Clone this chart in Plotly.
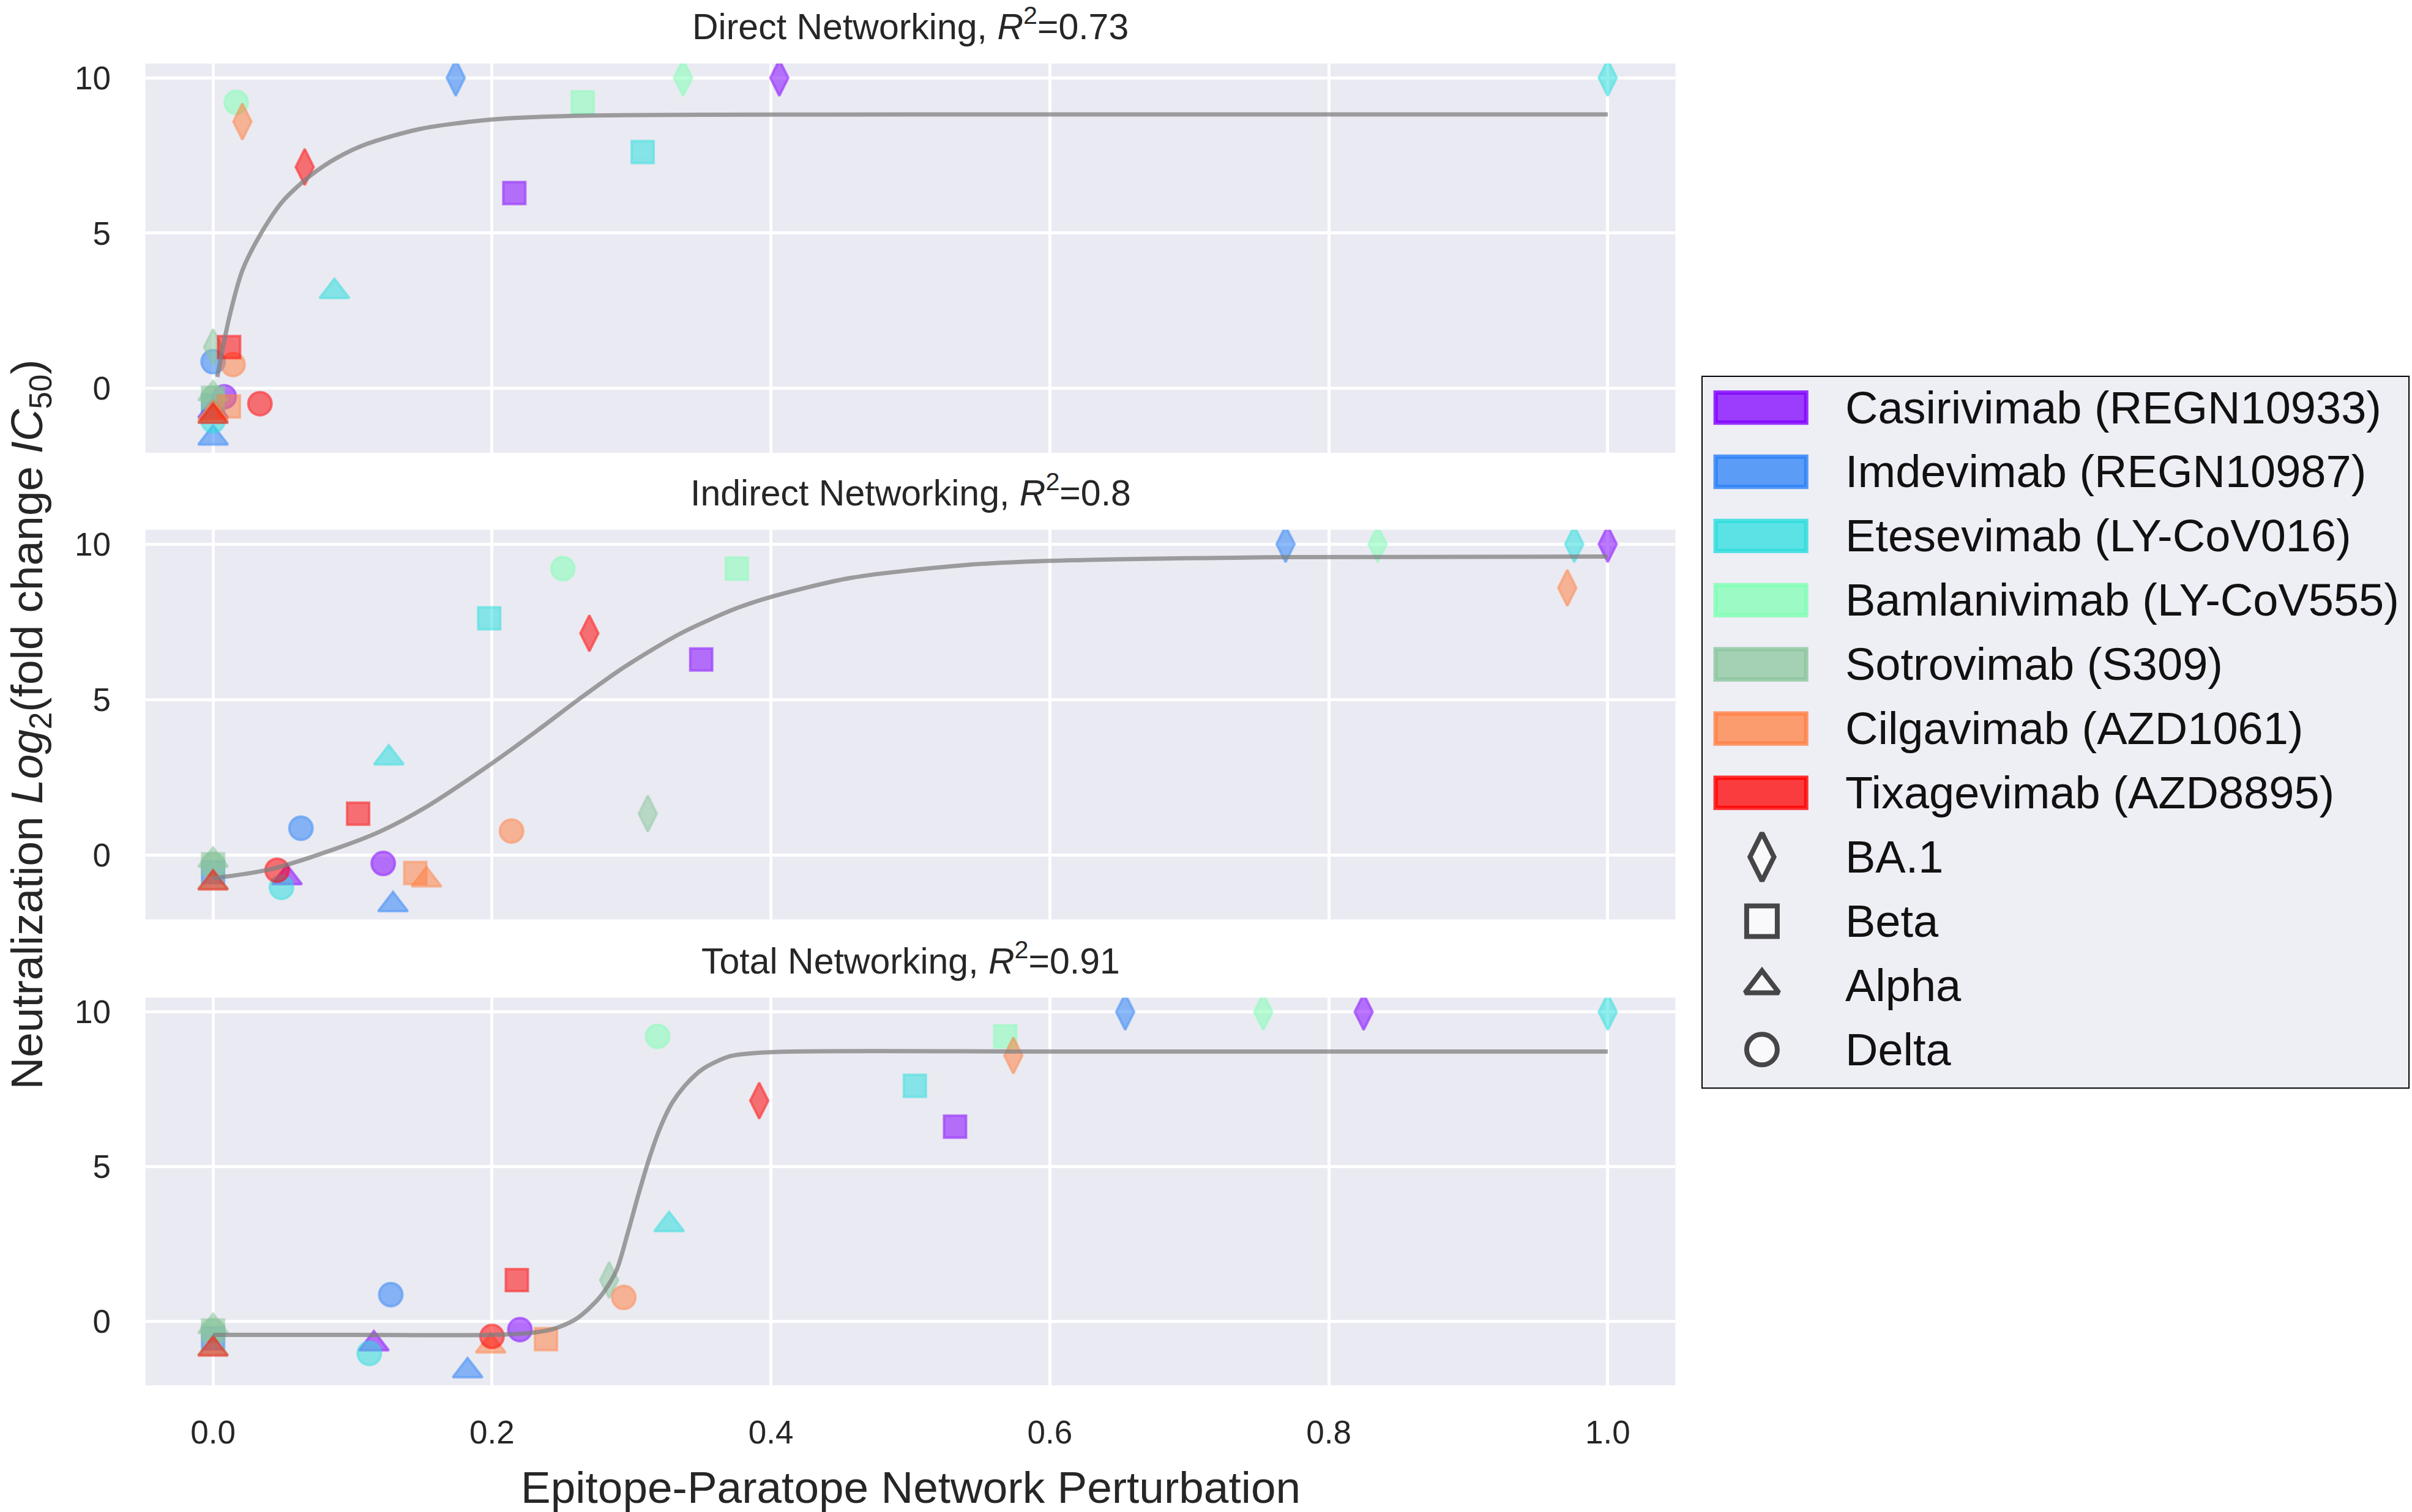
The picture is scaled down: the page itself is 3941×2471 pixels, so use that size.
import plotly.graph_objects as go

# antibodies (colour series) and variants (marker series)
antibodies = ["Casirivimab (REGN10933)", "Imdevimab (REGN10987)", "Etesevimab (LY-CoV016)",
              "Bamlanivimab (LY-CoV555)", "Sotrovimab (S309)", "Cilgavimab (AZD1061)",
              "Tixagevimab (AZD8895)"]
colors = ["#8000FF", "#2A80F6", "#2ADDDD", "#80FFB4", "#8BC69E", "#FF8042", "#FF0000"]
variants = ["BA.1", "Beta", "Alpha", "Delta"]
symbols = ["diamond-tall", "square", "triangle-up", "circle"]

# neutralization Log2(fold change IC50), rows = antibodies, cols = variants
log2_fc = [
    [10, 6.29, -0.73, -0.27],
    [10, -0.55, -1.60, 0.86],
    [10, 7.61, 3.12, -1.04],
    [10, 9.21, -0.88, 9.21],
    [1.33, -0.30, -0.17, -0.30],
    [8.59, -0.58, -0.80, 0.77],
    [7.13, 1.33, -0.90, -0.49],
]

# epitope-paratope network perturbation per panel
direct_x = [
    [0.406, 0.216, 0.0, 0.008],
    [0.174, 0.0, 0.0, 0.0],
    [1.0, 0.308, 0.087, 0.0],
    [0.337, 0.265, 0.0, 0.0166],
    [0.0, 0.0, 0.0, 0.0],
    [0.021, 0.0113, 0.0, 0.0143],
    [0.0657, 0.0115, 0.0, 0.0336],
]
indirect_x = [
    [1.0, 0.350, 0.053, 0.122],
    [0.769, 0.0, 0.129, 0.063],
    [0.976, 0.198, 0.126, 0.049],
    [0.835, 0.3755, 0.0, 0.2508],
    [0.3117, 0.0, 0.0, 0.0],
    [0.971, 0.145, 0.153, 0.214],
    [0.2698, 0.104, 0.0, 0.0459],
]
total_x = [
    [0.825, 0.532, 0.1153, 0.220],
    [0.654, 0.0, 0.1825, 0.1274],
    [1.0, 0.5032, 0.327, 0.112],
    [0.753, 0.568, 0.0, 0.3187],
    [0.284, 0.0, 0.0, 0.0],
    [0.5738, 0.2387, 0.199, 0.2945],
    [0.3916, 0.2178, 0.0, 0.200],
]

# fitted curves
direct_fit_x = [0.003, 0.0113, 0.021, 0.035, 0.05, 0.07, 0.0895, 0.109, 0.148, 0.2, 0.259, 0.35, 0.5, 0.75, 1.0]
direct_fit_y = [0.37, 2.23, 3.8, 5.04, 6.03, 6.86, 7.44, 7.85, 8.35, 8.66, 8.78, 8.81, 8.82, 8.82, 8.82]
indirect_fit_x = [0.0, 0.04, 0.0865, 0.12, 0.153, 0.2, 0.233, 0.262, 0.294, 0.335, 0.375, 0.4, 0.457, 0.538, 0.6, 0.77, 1.0]
indirect_fit_y = [-0.75, -0.47, 0.18, 0.76, 1.55, 2.95, 4.02, 5.0, 6.02, 7.12, 7.93, 8.3, 8.91, 9.32, 9.46, 9.58, 9.6]
total_fit_x = [0.0, 0.1, 0.2, 0.227, 0.244, 0.2605, 0.277, 0.289, 0.297, 0.305, 0.313, 0.321, 0.329,
               0.339, 0.351, 0.371, 0.4, 0.6, 1.0]
total_fit_y = [-0.44, -0.44, -0.44, -0.38, -0.25, 0.08, 0.76, 1.62, 2.8, 4.1, 5.3, 6.3, 7.05,
               7.65, 8.15, 8.57, 8.7, 8.72, 8.72]

panel_names = ["Direct Networking", "Indirect Networking", "Total Networking"]
r2 = ["0.73", "0.8", "0.91"]
x_ticks = [0.0, 0.2, 0.4, 0.6, 0.8, 1.0]
y_ticks = [0, 5, 10]

FONT = "Liberation Sans, Arial, sans-serif"
TXT = "#262626"
W, H = 3941, 2471


def rgba(hex_color, a):
    h = hex_color.lstrip("#")
    return "rgba(%d,%d,%d,%.2f)" % (int(h[0:2], 16), int(h[2:4], 16), int(h[4:6], 16), a)


fig = go.Figure()

panels = [(direct_x, direct_fit_x, direct_fit_y),
          (indirect_x, indirect_fit_x, indirect_fit_y),
          (total_x, total_fit_x, total_fit_y)]
y_domains = [[0.7023, 0.9603], [0.3929, 0.6512], [0.0840, 0.3410]]
x_domain = [0.0603, 0.6946]
marker_sizes = [42, 36, 42, 38]

for p, (px_data, fx, fy) in enumerate(panels):
    xa = "x" if p == 0 else "x%d" % (p + 1)
    ya = "y" if p == 0 else "y%d" % (p + 1)
    for i, name in enumerate(antibodies):
        fig.add_trace(go.Scatter(
            x=px_data[i], y=log2_fc[i], mode="markers", xaxis=xa, yaxis=ya,
            showlegend=False, name=name,
            marker=dict(symbol=symbols, size=marker_sizes, color=rgba(colors[i], 0.75),
                        line=dict(color=rgba(colors[i], 0.75), width=4)),
        ))
    fig.add_trace(go.Scatter(
        x=fx, y=fy, mode="lines", xaxis=xa, yaxis=ya, showlegend=False,
        line=dict(color="rgba(128,128,128,0.75)", width=7, shape="spline", smoothing=0.8),
    ))

    axis_common = dict(gridcolor="white", gridwidth=5, zeroline=False, showline=False,
                       ticks="outside", tickcolor="rgba(0,0,0,0)",
                       tickfont=dict(family=FONT, size=53, color=TXT))
    fig.update_layout(**{
        ("xaxis" if p == 0 else "xaxis%d" % (p + 1)): dict(
            domain=x_domain, range=[-0.0485, 1.0485], tickvals=x_ticks, tickformat=".1f",
            showticklabels=(p == 2), anchor=ya, ticklen=30, **axis_common),
        ("yaxis" if p == 0 else "yaxis%d" % (p + 1)): dict(
            domain=y_domains[p], range=[-2.07, 10.46], tickvals=y_ticks,
            anchor=xa, ticklen=45, **axis_common),
    })
    fig.add_annotation(
        xref="paper", yref="paper", x=sum(x_domain) / 2, y=y_domains[p][1] + 0.0105,
        xanchor="center", yanchor="bottom", showarrow=False, borderpad=0,
        text="%s, <i>R</i><sup>2</sup>=%s" % (panel_names[p], r2[p]),
        font=dict(family=FONT, size=59, color=TXT),
    )

# legend drawn on its own hidden axes
leg_top, leg_bottom = -0.495, 10.61
fig.update_layout(
    xaxis4=dict(domain=[0.7054, 0.9990], range=[0, 1], visible=False, fixedrange=True, anchor="y4"),
    yaxis4=dict(domain=[0.2806, 0.7533], range=[leg_bottom, leg_top], visible=False,
                fixedrange=True, anchor="x4"),
)
fig.add_shape(type="rect", xref="x4", yref="y4", x0=0, x1=1, y0=leg_top, y1=leg_bottom,
              line=dict(color="black", width=4), fillcolor="#EEEEF5", layer="below")
for i, name in enumerate(antibodies):
    fig.add_shape(type="rect", xref="x4", yref="y4", x0=0.020, x1=0.148, y0=i - 0.235, y1=i + 0.235,
                  fillcolor=rgba(colors[i], 0.75), line=dict(color=rgba(colors[i], 0.8), width=7))
    fig.add_annotation(xref="x4", yref="y4", x=0.2015, y=i, xanchor="left", yanchor="middle",
                       showarrow=False, text=name, font=dict(family=FONT, size=74, color="#111111"))
rows = list(range(len(antibodies), len(antibodies) + len(variants)))
fig.add_trace(go.Scatter(
    x=[0.0855] * len(variants), y=rows, mode="markers", xaxis="x4", yaxis="y4", showlegend=False,
    marker=dict(symbol=symbols, size=[56, 50, 48, 50], color="white", line=dict(color="black", width=8)),
))
for j, v in enumerate(variants):
    fig.add_annotation(xref="x4", yref="y4", x=0.2015, y=rows[j], xanchor="left", yanchor="middle",
                       showarrow=False, text=v, font=dict(family=FONT, size=74, color="#111111"))

# axis labels
fig.add_annotation(xref="paper", yref="paper", x=sum(x_domain) / 2, y=0.0166, xanchor="center",
                   yanchor="middle", showarrow=False, text="Epitope-Paratope Network Perturbation",
                   font=dict(family=FONT, size=73, color=TXT))
fig.add_annotation(xref="paper", yref="paper", x=0.0125, y=0.522, xanchor="center", yanchor="middle",
                   showarrow=False, textangle=-90, borderpad=0,
                   text="Neutralization <i>Log</i><sub>2</sub>(fold change <i>IC</i><sub>50</sub>)",
                   font=dict(family=FONT, size=73, color=TXT))

fig.update_layout(width=W, height=H, margin=dict(l=0, r=0, t=0, b=0),
                  paper_bgcolor="white", plot_bgcolor="#EAEAF2", showlegend=False,
                  font=dict(family=FONT, color=TXT))

# page body margin would push the fixed-size figure off the window
fig.write_html("out.html", config={"displayModeBar": False},
               post_script="document.body.style.margin='0px';")
